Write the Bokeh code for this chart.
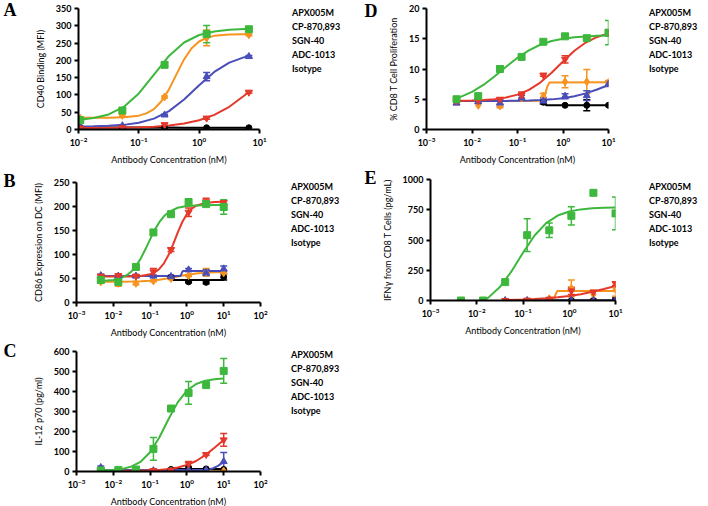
from bokeh.plotting import figure
from bokeh.models import (ColumnDataSource, Whisker, TeeHead, Legend, LegendItem,
                          FixedTicker, LogTickFormatter, Range1d)
from bokeh.layouts import column, row
from bokeh.embed import file_html
from bokeh.resources import INLINE

NAMES = ["APX005M", "CP-870,893", "SGN-40", "ADC-1013", "Isotype"]
COLORS = ["#3db83d", "#e5392b", "#4a4eb8", "#f7931e", "#000000"]
MARKERS = ["square", "inverted_triangle", "triangle", "diamond", "circle"]
MSIZE = [7, 7, 7, 8, 6]
FONT = "Lato"
X_TITLE = "Antibody Concentration (nM)"

# ---------------- Panel A ----------------
A_conc = [0.0107, 0.0533, 0.267, 1.33, 6.67]
A_apx = [27, 55, 187, 276, 290]
A_apx_err = [4, 4, 5, 25, 3]
A_cp = [4, 5, 14, 33, 108]
A_cp_err = [0, 0, 3, 3, 3]
A_sgn = [8, 11, 42, 153, 211]
A_sgn_err = [0, 0, 2, 12, 3]
A_adc = [32, 41, 94, 265, 274]
A_adc_err = [3, 3, 3, 23, 3]
A_iso = [6, 5, 5, 5, 5]
A_iso_err = [0, 0, 0, 0, 0]
A_fit_x = [0.0107, 0.0178, 0.0316, 0.0562, 0.1, 0.178, 0.316, 0.562, 1.0, 1.78, 3.16, 5.62, 6.67]
A_fit_apx = [28.5, 33.2, 43.6, 65.3, 104.3, 158.5, 212.7, 251.7, 273.3, 283.7, 288.5, 290.5, 291.0]
A_fit_cp = [4.2, 4.4, 4.8, 5.4, 6.5, 8.3, 11.6, 17.2, 26.7, 42.2, 65.6, 98.4, 109.0]
A_fit_sgn = [8.5, 9.2, 10.5, 13.4, 19.4, 31.4, 53.1, 87.0, 128.2, 166.4, 193.5, 209.4, 212.2]
A_fit_iso = [6.0, 6.0, 6.0, 5.9, 5.8, 5.7, 5.6, 5.4, 5.2, 5.0, 4.9, 4.8, 4.7]
A_fit_adc_x = [0.0107, 0.0178, 0.0316, 0.0562, 0.1, 0.133, 0.178, 0.237, 0.316, 0.422,
               0.562, 0.750, 1.0, 1.33, 1.78, 3.16, 5.62, 6.67]
A_fit_adc = [34.0, 34.1, 34.3, 35.4, 40.1, 46.6, 58.9, 81.7, 116.0, 160.3,
             202.9, 234.9, 254.5, 265.4, 270.9, 274.8, 275.8, 276.0]

# common grids for B-E
CONC = [0.00457, 0.0137, 0.0412, 0.123, 0.370, 1.11, 3.33, 10.0]
ISO_CONC = [0.370, 1.11, 3.33, 10.0]
GRID = [0.00457, 0.00562, 0.01, 0.0178, 0.0316, 0.0562, 0.1, 0.178, 0.316, 0.562,
        1.0, 1.78, 3.16, 5.62, 10.0]

# ---------------- Panel B ----------------
B_apx = [47, 43, 74, 146, 184, 209, 205, 199]
B_apx_err = [6, 7, 4, 3, 5, 7, 4, 15]
B_cp = [55, 56, 55, 64, 110, 188, 210, 208]
B_cp_err = [3, 3, 2, 7, 4, 9, 7, 4]
B_sgn = [56, 55, 55, 55, 54, 68, 62, 70]
B_sgn_err = [3, 2, 2, 2, 2, 3, 6, 6]
B_adc = [43, 40, 40, 45, 50, 56, 63, 62]
B_adc_err = [3, 6, 3, 2, 2, 2, 8, 3]
B_iso = [53, 43, 42, 53]
B_iso_err = [2, 2, 3, 6]
B_fit_apx_x = [0.00457, 0.00562, 0.01, 0.0178, 0.0237, 0.0316, 0.0422, 0.0562, 0.075, 0.1,
               0.133, 0.178, 0.237, 0.316, 0.562, 1.0, 1.78, 3.16, 5.62, 10.0]
B_fit_apx = [44.8, 45.1, 47.0, 52.3, 57.4, 65.3, 76.8, 92.3, 111.3, 131.6,
             151.2, 167.4, 179.6, 188.2, 197.4, 200.9, 202.3, 202.7, 202.9, 203.0]
B_fit_cp_x = [0.00457, 0.01, 0.0316, 0.0562, 0.1, 0.133, 0.178, 0.237, 0.316, 0.422,
              0.562, 0.750, 1.0, 1.33, 1.78, 3.16, 5.62, 10.0]
B_fit_cp = [54.0, 54.0, 54.4, 55.4, 58.8, 62.8, 69.9, 81.5, 98.8, 121.2,
            145.7, 167.7, 184.3, 195.2, 201.7, 207.5, 209.3, 209.8]
B_fit_sgn_x = [0.00457, 0.66, 0.70, 0.74, 0.78, 10.0]
B_fit_sgn = [55.3, 55.3, 58.0, 63.0, 65.5, 65.5]
B_fit_adc = [43.05, 43.1, 43.1, 43.3, 43.6, 44.2, 45.3, 47.3, 50.5, 54.3, 57.9, 60.6, 62.2, 63.1, 63.6]
B_fit_iso_x = [0.370, 10.0]
B_fit_iso = [47, 47]

# ---------------- Panel C ----------------
C_apx = [5, 8, 10, 113, 315, 393, 432, 503]
C_apx_err = [3, 3, 3, 57, 12, 57, 10, 62]
C_cp = [3, 3, 3, 5, 7, 38, 85, 158]
C_cp_err = [0, 0, 0, 2, 2, 12, 5, 32]
C_sgn = [20, 3, 4, 4, 2, 6, 6, 50]
C_sgn_err = [8, 0, 0, 0, 0, 0, 0, 45]
C_adc = [2, 2, 2, 2, 2, 2, 2, 2]
C_adc_err = [0, 0, 0, 0, 0, 0, 0, 0]
C_iso = [10, 17, 13, 10]
C_iso_err = [0, 0, 0, 0]
C_fit_apx = [4.5, 5.1, 7.6, 13.2, 25.2, 49.7, 96.0, 170.0, 261.5, 345.7, 404.3, 437.3, 453.6, 461.5, 465.0]
C_fit_cp = [3.1, 3.1, 3.2, 3.4, 3.8, 4.5, 5.8, 8.1, 12.4, 19.8, 32.6, 52.6, 81.9, 118.9, 158.0]
C_fit_sgn_x = [0.00457, 2.0, 3.33, 5.0, 7.0, 10.0]
C_fit_sgn = [8, 8, 9, 15, 28, 48]
C_fit_adc_x = [0.00457, 10.0]
C_fit_adc = [1.5, 1.5]
C_fit_iso_x = [0.370, 10.0]
C_fit_iso = [13, 13]

# ---------------- Panel D ----------------
D_apx = [5.0, 5.5, 10.0, 12.0, 14.5, 15.4, 15.1, 16.0]
D_apx_err = [0.2, 0.5, 0.2, 0.3, 0.3, 0.3, 0.2, 2.0]
D_cp = [4.7, 4.8, 5.0, 5.7, 9.0, 11.6, 15.1, 16.0]
D_cp_err = [0, 0, 0.2, 0.5, 0.2, 0.6, 0, 0.5]
D_sgn = [4.4, 4.6, 4.4, 5.2, 4.7, 5.5, 5.6, 7.5]
D_sgn_err = [0.3, 0.3, 0.5, 0.4, 0.5, 0.4, 0.8, 0.4]
D_adc = [4.7, 4.0, 3.9, 5.2, 5.5, 7.9, 7.9, 7.8]
D_adc_err = [0, 0, 0.3, 0, 0.5, 1.0, 2.0, 0.3]
D_iso = [4.5, 4.0, 4.0, 4.0]
D_iso_err = [0.3, 0, 0.9, 0]
D_fit_apx = [5.17, 5.39, 6.22, 7.36, 8.79, 10.37, 11.86, 13.09, 14.01, 14.63, 15.01, 15.25, 15.39, 15.48, 15.53]
D_fit_cp = [4.74, 4.75, 4.79, 4.87, 5.02, 5.28, 5.76, 6.54, 7.75, 9.39, 11.25, 13.01, 14.37, 15.30, 15.87]
D_fit_sgn = [4.70, 4.70, 4.70, 4.71, 4.72, 4.73, 4.75, 4.79, 4.86, 4.98, 5.18, 5.50, 5.97, 6.61, 7.35]
D_fit_adc_x = [0.00457, 0.355, 0.398, 0.447, 0.50, 10.0]
D_fit_adc = [4.7, 4.75, 5.6, 7.0, 7.75, 7.8]
D_fit_iso_x = [0.370, 0.40, 0.43, 10.0]
D_fit_iso = [4.7, 4.3, 4.0, 4.0]

# ---------------- Panel E ----------------
E_apx = [0, 0, 152, 540, 580, 700, 890, 720]
E_apx_err = [0, 0, 0, 135, 60, 75, 0, 135]
E_cp_x = [0.0412, 0.123, 0.370, 1.11, 3.33, 10.0]
E_cp = [0, 3, 10, 80, 70, 140]
E_cp_err = [0, 0, 0, 30, 0, 15]
E_sgn_x = [0.0412, 0.123, 0.370, 1.11, 3.33, 10.0]
E_sgn = [0, 0, 0, 0, 0, 0]
E_sgn_err = [0, 0, 0, 0, 0, 0]
E_adc_x = [0.370, 1.11, 3.33, 10.0]
E_adc = [15, 100, 50, 95]
E_adc_err = [10, 70, 35, 60]
E_iso = [0, 0, 0, 0]
E_iso_err = [0, 0, 0, 20]
E_fit_apx_x = [0.0141, 0.0178, 0.0316, 0.0562, 0.1, 0.178, 0.316, 0.562, 1.0, 1.78, 3.16, 5.62, 10.0]
E_fit_apx = [0, 23.7, 111, 240, 395, 537, 640, 702, 736, 753, 762, 766, 768]
E_fit_cp_x = [0.0412, 0.1, 0.178, 0.316, 0.562, 1.0, 1.78, 3.16, 5.62, 10.0]
E_fit_cp = [4.3, 8.1, 12.0, 17.8, 26.0, 37.3, 52.5, 71.8, 94.5, 119.8]
E_fit_sgn_x = [0.0412, 10.0]
E_fit_sgn = [0, 0]
E_fit_adc_x = [0.0412, 0.457, 0.50, 0.55, 10.0]
E_fit_adc = [0, 2, 45, 78, 78]
E_fit_iso_x = [0.370, 10.0]
E_fit_iso = [0, 0]


def make_panel(letter, ylabel, xr, xticks, ymax, yticks, series, geo, letter_dx, letter_so):
    left, fw, right, top, fh, bottom = geo
    p = figure(frame_width=fw, frame_height=fh, x_axis_type="log",
               x_range=Range1d(*xr), y_range=Range1d(0, ymax),
               output_backend="svg", toolbar_location=None,
               min_border_left=left, min_border_right=right,
               min_border_top=top, min_border_bottom=bottom)
    p.outline_line_color = None
    p.xgrid.visible = False
    p.ygrid.visible = False
    p.xaxis.ticker = FixedTicker(ticks=xticks)
    p.xaxis.formatter = LogTickFormatter()
    p.yaxis.ticker = FixedTicker(ticks=yticks)
    for ax in (p.xaxis[0], p.yaxis[0]):
        ax.axis_line_width = 2
        ax.axis_line_color = "black"
        ax.major_tick_line_width = 2
        ax.major_tick_line_color = "black"
        ax.major_tick_out = 4
        ax.major_tick_in = 0
        ax.minor_tick_line_color = None
        ax.major_label_text_font = FONT
        ax.major_label_text_font_size = "9px"
        ax.major_label_text_font_style = "bold"
        ax.major_label_text_color = "black"
        ax.major_label_standoff = 3
        ax.axis_label_text_font = FONT
        ax.axis_label_text_font_size = "9px"
        ax.axis_label_text_font_style = "normal"
        ax.axis_label_text_color = "black"
    p.xaxis.axis_label = X_TITLE
    p.yaxis.axis_label = ylabel
    p.xaxis.axis_label_standoff = 5
    p.yaxis.axis_label_standoff = 7

    # panel letter as the title
    p.title.text = letter
    p.title.align = "left"
    p.title.offset = letter_dx
    p.title.standoff = letter_so
    p.title.text_font = "Liberation Serif"
    p.title.text_font_style = "bold"
    p.title.text_font_size = "18px"
    p.title.text_color = "black"

    order = [4, 3, 2, 1, 0]
    for i in order:
        s = series[i]
        p.line(s["fx"], s["fy"], line_color=COLORS[i], line_width=2)
    for i in order:
        s = series[i]
        col = COLORS[i]
        wb = [x for x, e in zip(s["x"], s["e"]) if e > 0]
        if wb:
            wu = [y + e for y, e in zip(s["y"], s["e"]) if e > 0]
            wl = [y - e for y, e in zip(s["y"], s["e"]) if e > 0]
            src = ColumnDataSource(dict(base=wb, upper=wu, lower=wl))
            w = Whisker(source=src, base="base", upper="upper", lower="lower",
                        dimension="height", line_color=col, line_width=1.5,
                        upper_head=TeeHead(size=7, line_color=col, line_width=1.5),
                        lower_head=TeeHead(size=7, line_color=col, line_width=1.5))
            p.add_layout(w)
        p.scatter(s["x"], s["y"], marker=MARKERS[i], size=MSIZE[i],
                  fill_color=col, line_color=col)
    return p


def make_legend(width, height, y_pos):
    # a small axis-free figure that only carries the legend of a panel
    q = figure(width=width, height=height, min_border=0, x_range=Range1d(0, 1),
               y_range=Range1d(0, 1), x_axis_location=None, y_axis_location=None,
               output_backend="svg", toolbar_location=None)
    q.outline_line_color = None
    q.xgrid.visible = False
    q.ygrid.visible = False
    items = []
    for i in range(5):
        lr = q.line(x=[], y=[], line_color=COLORS[i], line_width=2)
        sr = q.scatter(x=[], y=[], marker=MARKERS[i], size=MSIZE[i],
                       fill_color=COLORS[i], line_color=COLORS[i])
        items.append(LegendItem(label=NAMES[i], renderers=[lr, sr]))
    leg = Legend(items=items, location=(0, y_pos), glyph_width=14, glyph_height=14,
                 label_height=14, label_standoff=5, spacing=0, padding=0, margin=0,
                 border_line_color=None, background_fill_alpha=0,
                 label_text_font=FONT, label_text_font_size="9px",
                 label_text_font_style="bold", label_text_color="black")
    q.add_layout(leg)
    return q


def S(x, y, e, fx, fy):
    return dict(x=x, y=y, e=e, fx=fx, fy=fy)


DEC5 = [1e-3, 1e-2, 1e-1, 1e0, 1e1, 1e2]
DEC4 = [1e-3, 1e-2, 1e-1, 1e0, 1e1]

pA = make_panel("A", "CD40 Binding (MFI)", (1e-2, 1e1), [1e-2, 1e-1, 1e0, 1e1], 350,
                [0, 50, 100, 150, 200, 250, 300, 350],
                [S(A_conc, A_apx, A_apx_err, A_fit_x, A_fit_apx),
                 S(A_conc, A_cp, A_cp_err, A_fit_x, A_fit_cp),
                 S(A_conc, A_sgn, A_sgn_err, A_fit_x, A_fit_sgn),
                 S(A_conc, A_adc, A_adc_err, A_fit_adc_x, A_fit_adc),
                 S(A_conc, A_iso, A_iso_err, A_fit_x, A_fit_iso)],
                (78, 181, 14, 8, 121, 33), -75, -23)
lA = make_legend(79, 162, 49)

pB = make_panel("B", "CD86 Expression on DC (MFI)", (1e-3, 1e2), DEC5, 250,
                [0, 50, 100, 150, 200, 250],
                [S(CONC, B_apx, B_apx_err, B_fit_apx_x, B_fit_apx),
                 S(CONC, B_cp, B_cp_err, B_fit_cp_x, B_fit_cp),
                 S(CONC, B_sgn, B_sgn_err, B_fit_sgn_x, B_fit_sgn),
                 S(CONC, B_adc, B_adc_err, GRID, B_fit_adc),
                 S(ISO_CONC, B_iso, B_iso_err, B_fit_iso_x, B_fit_iso)],
                (76, 184, 12, 15, 120, 32), -73, -16)
lB = make_legend(80, 167, 47)

pC = make_panel("C", "IL-12 p70 (pg/ml)", (1e-3, 1e2), DEC5, 600,
                [0, 100, 200, 300, 400, 500, 600],
                [S(CONC, C_apx, C_apx_err, GRID, C_fit_apx),
                 S(CONC, C_cp, C_cp_err, GRID, C_fit_cp),
                 S(CONC, C_sgn, C_sgn_err, C_fit_sgn_x, C_fit_sgn),
                 S(CONC, C_adc, C_adc_err, C_fit_adc_x, C_fit_adc),
                 S(ISO_CONC, C_iso, C_iso_err, C_fit_iso_x, C_fit_iso)],
                (76, 184, 12, 11, 120, 30), -73, -19)
lC = make_legend(80, 161, 46)

pD = make_panel("D", "% CD8 T Cell Proliferation", (1e-3, 1e1), DEC4, 20,
                [0, 5, 10, 15, 20],
                [S(CONC, D_apx, D_apx_err, GRID, D_fit_apx),
                 S(CONC, D_cp, D_cp_err, GRID, D_fit_cp),
                 S(CONC, D_sgn, D_sgn_err, GRID, D_fit_sgn),
                 S(CONC, D_adc, D_adc_err, D_fit_adc_x, D_fit_adc),
                 S(ISO_CONC, D_iso, D_iso_err, D_fit_iso_x, D_fit_iso)],
                (74, 182, 22, 8, 121, 36), -62, -25)
lD = make_legend(68, 165, 52)

pE = make_panel("E", "IFN\u03b3 from CD8 T Cells (pg/mL)", (1e-3, 1e1), DEC4, 1000,
                [0, 250, 500, 750, 1000],
                [S(CONC, E_apx, E_apx_err, E_fit_apx_x, E_fit_apx),
                 S(E_cp_x, E_cp, E_cp_err, E_fit_cp_x, E_fit_cp),
                 S(E_sgn_x, E_sgn, E_sgn_err, E_fit_sgn_x, E_fit_sgn),
                 S(E_adc_x, E_adc, E_adc_err, E_fit_adc_x, E_fit_adc),
                 S(ISO_CONC, E_iso, E_iso_err, E_fit_iso_x, E_fit_iso)],
                (78, 185, 15, 12, 121, 32), -66, -16)
lE = make_legend(68, 165, 45)

layout = row(column(row(pA, lA), row(pB, lB), row(pC, lC)),
             column(row(pD, lD), row(pE, lE)))

with open("out.html", "w") as f:
    f.write(file_html(layout, INLINE, "APX005M"))
